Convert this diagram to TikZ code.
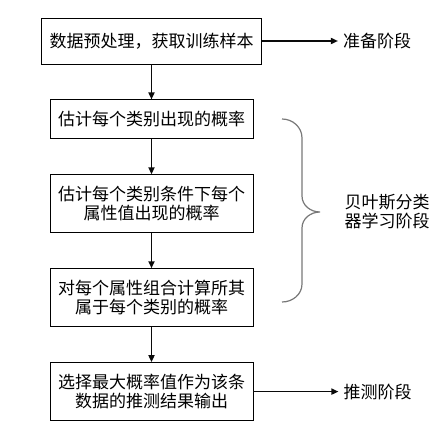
\documentclass[tikz,border=0pt]{standalone}
\usepackage{fontspec}
\usepackage{tikz}
\usetikzlibrary{arrows.meta, positioning}
\usepackage{xcolor}
\newfontfamily\cjk{Noto Sans CJK SC}
\definecolor{boxline}{RGB}{0,0,0}
\definecolor{arrowblack}{RGB}{10,10,10}
\definecolor{bracegray}{RGB}{120,120,120}
\tikzset{
  % Step box (main flow)
  stepbox/.style={
    rectangle, draw=boxline, line width=0.9pt, fill=white,
    minimum width=203pt, minimum height=58pt,
    inner sep=2pt, align=center,
    font=\cjk\fontsize{17}{19}\selectfont
  },
  % Wide first box
  widebox/.style={
    stepbox, minimum width=220pt, minimum height=46pt
  },
  % Stage label on the right
  stagelabel/.style={
    inner sep=5pt, align=center,
    font=\cjk\fontsize{17}{19}\selectfont
  },
  % Arrow style
  arr/.style={
    -{Triangle[length=7pt,width=6pt]}, line width=1.6pt, color=arrowblack
  },
  % Curly brace
  bracestyle/.style={
    line width=1.2pt, color=bracegray
  },
}
\begin{document}
\begin{tikzpicture}[x=1pt, y=-1pt, node distance=35pt and 76pt]

\useasboundingbox (0,0) rectangle (447,426);

%% -- MAIN FLOW ------------------------------------------------------------

\node[widebox] (prep) at (151.5,41) {数据预处理，获取训练样本};

\node[stepbox, below=of prep, minimum height=39pt] (prior)
  {估计每个类别出现的概率};

\node[stepbox, below=of prior] (cond)
  {估计每个类别条件下每个\\属性值出现的概率};

\node[stepbox, below=of cond] (post)
  {对每个属性组合计算所其\\属于每个类别的概率};

\node[stepbox, below=of post] (pick)
  {选择最大概率值作为该条\\数据的推测结果输出};

%% -- STAGE LABELS ---------------------------------------------------------

\node[stagelabel, right=76pt of prep.east, anchor=west] (prepstage) {准备阶段};

\node[stagelabel, right=85pt of pick.east, anchor=west] (inferstage) {推测阶段};

\node[stagelabel] (learnstage) at (387,212) {贝叶斯分类\\器学习阶段};

%% -- ARROWS ---------------------------------------------------------------

\draw[arr] (prep)  -- (prior);
\draw[arr] (prior) -- (cond);
\draw[arr] (cond)  -- (post);
\draw[arr] (post)  -- (pick);

\draw[arr] (prep.east) -- (prepstage.west);
\draw[arr] (pick.east) -- (inferstage.west);

%% -- BRACE ----------------------------------------------------------------

\coordinate (bracetop) at (282,119);
\coordinate (bracetip) at (320,212);
\coordinate (bracebot) at (282,302);

\draw[bracestyle] (bracetop) to[out=0, in=90] (302,138) -- (302,196)
  to[out=-90, in=180] (bracetip)
  to[out=180, in=90] (302,228) -- (302,284)
  to[out=-90, in=0] (bracebot);

\end{tikzpicture}
\end{document}
